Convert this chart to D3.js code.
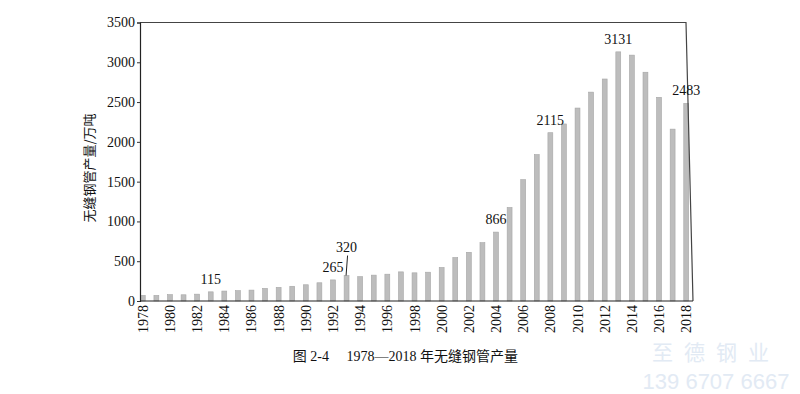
<!DOCTYPE html>
<html>
<head>
<meta charset="utf-8">
<script src="https://cdn.jsdelivr.net/npm/d3@7"></script>
<style>
  body { margin: 0; background: #fff; }
  svg { display: block; }
</style>
</head>
<body>
<svg id="chart"></svg>
<script>
// seamless steel pipe output, 10k tonnes
const years = d3.range(1978, 2019);
const output = [
    70, 70, 80, 78, 86, 115, 125, 130, 137, 158,
    171, 185, 204, 229, 265, 320, 306, 325, 337, 366,
    354, 362, 421, 546, 612, 733, 866, 1175, 1525, 1840,
    2115, 2225, 2425, 2625, 2790, 3131, 3090, 2875, 2560, 2160,
    2483
];
const labelledYears = [1983, 1992, 1993, 2004, 2008, 2013, 2018];
const yTicks = [0, 500, 1000, 1500, 2000, 2500, 3000, 3500];
const xTickYears = years.filter(y => (y - 1978) % 2 === 0);
const yTitle = "无缝钢管产量/万吨";
const caption = "图 2-4\u2003 1978—2018 年无缝钢管产量";

const width = 800;
const height = 394;
const serif = "'Liberation Serif', 'DejaVu Serif', serif";
const cjk = "'Noto Sans CJK SC', 'Noto Sans', sans-serif";
const mixed = "'Liberation Serif', 'Noto Sans CJK SC', serif";

const svg = d3.select("#chart")
    .attr("width", width)
    .attr("height", height);

const plotLeft = 140, plotTop = 22.5, plotBottom = 301, rightTop = 686, rightBottom = 693;

const x = d3.scaleBand()
    .domain(years)
    .range([136, 693])
    .paddingInner(0.64)
    .paddingOuter(0.32);

const y = d3.scaleLinear()
    .domain([0, 3500])
    .range([plotBottom, plotTop]);

const data = years.map((year, i) => ({year, value: output[i]}));

// bars
svg.append("g")
    .selectAll("rect")
    .data(data)
    .join("rect")
    .attr("x", d => x(d.year))
    .attr("width", x.bandwidth())
    .attr("y", d => y(d.value))
    .attr("height", d => y(0) - y(d.value))
    .attr("fill", "#bdbdbd")
    .attr("stroke", "#a6a6a6")
    .attr("stroke-width", 0.6);

// frame: top and (scan-slanted) right edge
svg.append("path")
    .attr("d", `M${plotLeft},${plotTop}H${rightTop}L${rightBottom},${plotBottom}`)
    .attr("fill", "none")
    .attr("stroke", "#444")
    .attr("stroke-width", 1.2);

// bottom axis line
svg.append("line")
    .attr("x1", plotLeft).attr("x2", rightBottom)
    .attr("y1", plotBottom).attr("y2", plotBottom)
    .attr("stroke", "#222")
    .attr("stroke-width", 1.2);

// y axis
const yAxis = svg.append("g")
    .attr("transform", `translate(${plotLeft},0)`)
    .call(d3.axisLeft(y).tickValues(yTicks).tickFormat(d3.format("d")).tickSize(3).tickPadding(2));
yAxis.select(".domain").attr("stroke", "#222").attr("stroke-width", 1.2);
yAxis.selectAll(".tick line").attr("stroke", "#333");
yAxis.selectAll("text")
    .attr("font-family", serif)
    .attr("font-size", 14)
    .attr("fill", "#111");

// x tick labels, every second year, rotated
svg.append("g")
    .selectAll("text")
    .data(xTickYears)
    .join("text")
    .attr("transform", d => `translate(${x(d) + x.bandwidth() / 2 + 5},${plotBottom + 4}) rotate(-90)`)
    .attr("text-anchor", "end")
    .attr("font-family", serif)
    .attr("font-size", 14)
    .attr("fill", "#111")
    .text(d => d);

// value labels
const labelled = data.filter(d => labelledYears.includes(d.year));
const lift = d => d.year === 1993 ? 24 : 8;

svg.append("g")
    .selectAll("text")
    .data(labelled)
    .join("text")
    .attr("x", d => x(d.year) + x.bandwidth() / 2)
    .attr("y", d => y(d.value) - lift(d))
    .attr("text-anchor", "middle")
    .attr("font-family", serif)
    .attr("font-size", 14)
    .attr("fill", "#111")
    .text(d => d.value);

// leader line for 1993
svg.append("g")
    .selectAll("line")
    .data(labelled.filter(d => d.year === 1993))
    .join("line")
    .attr("x1", d => x(d.year) + x.bandwidth() / 2 + 1)
    .attr("y1", d => y(d.value) - 20)
    .attr("x2", d => x(d.year) + x.bandwidth() / 2 - 0.5)
    .attr("y2", d => y(d.value))
    .attr("stroke", "#222")
    .attr("stroke-width", 1);

// y axis title
svg.append("text")
    .attr("transform", "translate(94,168) rotate(-90)")
    .attr("text-anchor", "middle")
    .attr("font-family", cjk)
    .attr("font-size", 13)
    .attr("fill", "#111")
    .text(yTitle);

// caption, centred under the whole figure
svg.append("text")
    .attr("x", 518)
    .attr("y", 361)
    .attr("text-anchor", "end")
    .attr("font-family", mixed)
    .attr("font-size", 14)
    .attr("fill", "#111")
    .text(caption);

// faint watermark
svg.append("text")
    .attr("x", 716).attr("y", 360)
    .attr("text-anchor", "middle")
    .attr("font-family", cjk)
    .attr("font-size", 21)
    .attr("letter-spacing", 11)
    .attr("fill", "#e2eaf4")
    .text("至德钢业");
svg.append("text")
    .attr("x", 716).attr("y", 389)
    .attr("text-anchor", "middle")
    .attr("font-family", "'Liberation Sans', sans-serif")
    .attr("font-size", 22)
    .attr("fill", "#e2eaf4")
    .text("139 6707 6667");
</script>
</body>
</html>
